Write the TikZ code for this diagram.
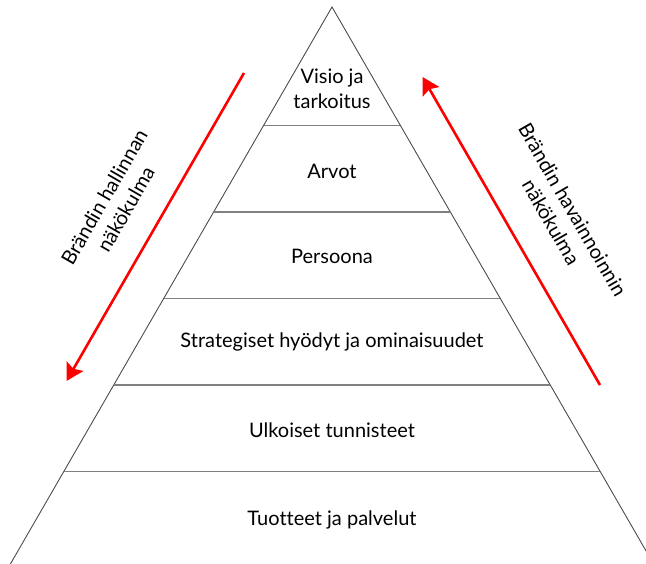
\documentclass[tikz,border=0pt]{standalone}
\usepackage{fontspec}
\setmainfont{Lato}[Ligatures={NoCommon}]
\usetikzlibrary{arrows.meta}

\tikzset{
  side/.style={draw=black!70, line width=0.9pt},
  tier/.style={draw=black!50, line width=1.1pt},
  tierlabel/.style={font=\fontsize{20}{24.8}\selectfont, align=center, text=black, inner sep=0pt},
  viewarrow/.style={draw=red, line width=2.6pt,
    -{Stealth[length=17pt, width=19pt, inset=3pt]}},
  viewlabel/.style={font=\fontsize{20}{24.8}\selectfont, align=center, text=black, inner sep=0pt},
}

\begin{document}
\begin{tikzpicture}[x=1pt, y=-1pt]
  \useasboundingbox (0,0) rectangle (646,564);
  \clip (0,0) rectangle (646,564);

  % pyramid outline (60 degree sides)
  \coordinate (apex) at (332,7);
  \coordinate (bl) at (10.4,564);
  \coordinate (br) at (653.6,564);
  \draw[side] (bl) -- (apex) -- (br);

  % tier boundaries
  \foreach \yy/\nm in {125.5/a, 212/b, 298.5/c, 385/d, 471.5/e} {
    \pgfmathsetmacro{\hw}{0.57735*(\yy-7)}
    \coordinate (\nm L) at ({332-\hw},\yy);
    \coordinate (\nm R) at ({332+\hw},\yy);
    \draw[tier] (\nm L) -- (\nm R);
  }

  % tier labels
  \node[tierlabel] (visio) at (332,89) {Visio ja\\tarkoitus};
  \node[tierlabel] (arvot) at (332,171) {Arvot};
  \node[tierlabel] (persoona) at (332,256.5) {Persoona};
  \node[tierlabel] (strategiset) at (332,342) {Strategiset hyödyt ja ominaisuudet};
  \node[tierlabel] (ulkoiset) at (332,430) {Ulkoiset tunnisteet};
  \node[tierlabel] (tuotteet) at (332,520) {Tuotteet ja palvelut};

  % viewpoint arrows
  \coordinate (leftStart) at (244,73);
  \coordinate (leftEnd) at (66.5,381);
  \draw[viewarrow] (leftStart) -- (leftEnd);

  \coordinate (rightStart) at (600,385);
  \coordinate (rightEnd) at (422.5,77);
  \draw[viewarrow] (rightStart) -- (rightEnd);

  % viewpoint labels
  \node[viewlabel, rotate=60] (hallinta) at (115,203) {Brändin hallinnan\\näkökulma};
  \node[viewlabel, rotate=-60] (havainnointi) at (562,216) {Brändin havainnoinnin\\näkökulma};
\end{tikzpicture}
\end{document}
